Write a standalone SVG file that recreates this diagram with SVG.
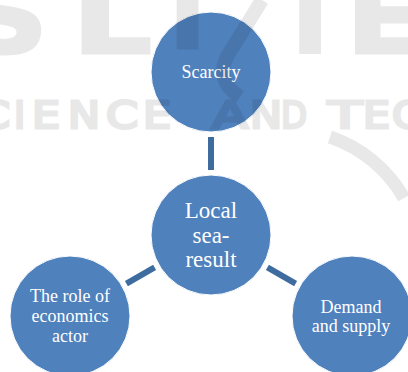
<svg xmlns="http://www.w3.org/2000/svg" width="408" height="372" viewBox="0 0 408 372">
  <style>
    .node circle { fill: #4f81bd; stroke: #ffffff; stroke-width: 1; }
    .node text { fill: #ffffff; font-family: "Liberation Serif", "Times New Roman", serif; text-anchor: middle; }
    .lbl { font-size: 18px; }
    .big { font-size: 23px; }
    #connectors line { stroke: #3e6c9f; stroke-width: 6; }
    .wm { opacity: 0.085; }
    .wm text, .wm path { fill: #000000; stroke: #000000; }
    .wm path { fill: none; }
    .wm text { font-family: "DejaVu Sans", sans-serif; }
    .wm-top text { font-size: 100px; font-weight: bold; stroke-width: 3; }
    .wm-row text { font-size: 38px; stroke-width: 3; }
  </style>
  <rect width="408" height="372" fill="#ffffff"/>

  <g id="connectors">
    <line x1="211" y1="137" x2="211" y2="170"/>
    <line x1="126.4" y1="283.6" x2="154.6" y2="267.4"/>
    <line x1="267.4" y1="267.4" x2="295.6" y2="283.6"/>
  </g>

  <g id="scarcity" class="node">
    <circle cx="211" cy="72" r="60"/>
    <text class="lbl" x="211" y="78">Scarcity</text>
  </g>

  <g id="local" class="node">
    <circle cx="211" cy="235" r="60"/>
    <text class="big" x="211" y="218">Local</text>
    <text class="big" x="211" y="243">sea-</text>
    <text class="big" x="211" y="267">result</text>
  </g>

  <g id="role" class="node">
    <circle cx="70" cy="316" r="60"/>
    <text class="lbl" x="70" y="302">The role of</text>
    <text class="lbl" x="70" y="322">economics</text>
    <text class="lbl" x="70" y="342">actor</text>
  </g>

  <g id="demand" class="node">
    <circle cx="352" cy="316" r="60"/>
    <text class="lbl" x="351" y="313">Demand</text>
    <text class="lbl" x="351" y="332">and supply</text>
  </g>

  <!-- faint publisher mark laid over the page -->
  <g class="wm">
    <g class="wm-top">
      <text x="-36" y="53" textLength="84" lengthAdjust="spacingAndGlyphs">S</text>
      <text x="72" y="53" textLength="80" lengthAdjust="spacingAndGlyphs">L</text>
      <text x="169" y="48">I</text>
      <text x="276" y="53">T</text>
      <text x="346" y="53" textLength="80" lengthAdjust="spacingAndGlyphs">E</text>
    </g>
    <path d="M262 0 L228 55 Q214 80 240 97" stroke-width="14"/>
    <g class="wm-row">
      <text x="-22" y="128" textLength="32" lengthAdjust="spacingAndGlyphs">C</text>
      <text x="14" y="128">I</text>
      <text x="32" y="128" textLength="28" lengthAdjust="spacingAndGlyphs">E</text>
      <text x="68" y="128" textLength="32" lengthAdjust="spacingAndGlyphs">N</text>
      <text x="106" y="128" textLength="32" lengthAdjust="spacingAndGlyphs">C</text>
      <text x="143" y="128" textLength="28" lengthAdjust="spacingAndGlyphs">E</text>
      <text x="212" y="128" textLength="36" lengthAdjust="spacingAndGlyphs">A</text>
      <text x="250" y="128" textLength="32" lengthAdjust="spacingAndGlyphs">N</text>
      <text x="281" y="128" textLength="26" lengthAdjust="spacingAndGlyphs">D</text>
      <text x="328" y="128" textLength="34" lengthAdjust="spacingAndGlyphs">T</text>
      <text x="363" y="128" textLength="27" lengthAdjust="spacingAndGlyphs">E</text>
      <text x="392" y="128" textLength="30" lengthAdjust="spacingAndGlyphs">C</text>
    </g>
    <path d="M330 137 A135 135 0 0 1 404 198" stroke-width="13"/>
  </g>
</svg>
